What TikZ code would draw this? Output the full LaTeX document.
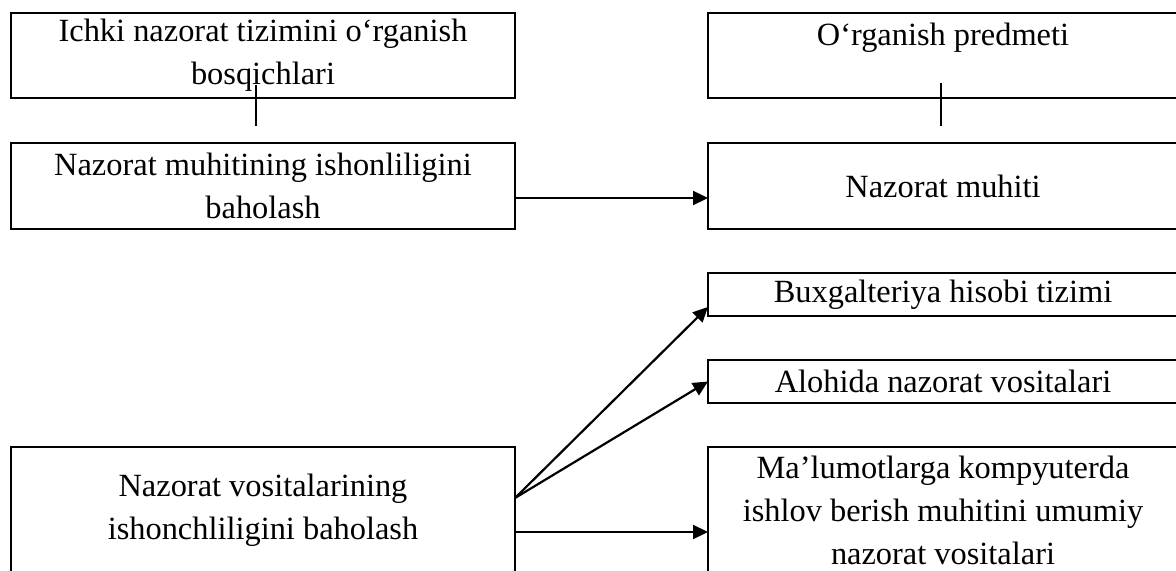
\documentclass[tikz,border=0pt]{standalone}
\usepackage{fontspec}
\setmainfont{Liberation Serif}
\usetikzlibrary{positioning,arrows.meta}

\begin{document}
\begin{tikzpicture}[-{Triangle[length=7.5pt,width=7pt]},line width=1.1pt,align=center,
    blok/.style={draw=black,inner sep=0pt,outer sep=0pt,font=\fontsize{16.2pt}{21.5pt}\selectfont},
    leftbox/.style={blok,minimum width=252pt},
    rightbox/.style={blok,minimum width=235pt}]
      \useasboundingbox (0,0) rectangle (588pt,-285.5pt);
      % left column
      \node[leftbox,minimum height=42.5pt,anchor=north west] (stages) at (5.5pt,-6.5pt)
        {Ichki nazorat tizimini o‘rganish\\bosqichlari};
      \node[leftbox,minimum height=43pt,below=22.5pt of stages] (envcheck)
        {Nazorat muhitining ishonliligini\\baholash};
      \node[leftbox,minimum height=63.5pt,below=109pt of envcheck] (toolcheck)
        {Nazorat vositalarining\\ishonchliligini baholash};
      % right column
      \node[rightbox,minimum height=42.5pt,right=96.5pt of stages] (subject)
        {O‘rganish predmeti\\ \mbox{}};
      \node[rightbox,minimum height=43pt,below=22.5pt of subject] (envmain) {Nazorat muhiti};
      \node[rightbox,minimum height=21.5pt,below=22pt of envmain] (accounting) {Buxgalteriya hisobi tizimi};
      \node[rightbox,minimum height=21.5pt,below=22pt of accounting] (separate) {Alohida nazorat vositalari};
      \node[rightbox,minimum height=63.5pt,below=22pt of separate] (computer)
        {Ma’lumotlarga kompyuterda\\ishlov berish muhitini umumiy\\nazorat vositalari};

      \draw[-,line width=0.6pt] ([xshift=-3.5pt,yshift=6.5pt]stages.south) -- ([xshift=-3.5pt,yshift=-14pt]stages.south);
      \draw[-,line width=0.6pt] ([xshift=-1pt,yshift=7.5pt]subject.south) -- ([xshift=-1pt,yshift=-14pt]subject.south);

      \draw ([yshift=-6pt]envcheck.east) -- ([yshift=-6pt]envcheck.east -| envmain.west);
      \draw ([yshift=6.25pt]toolcheck.east) -- ([yshift=-6.25pt]accounting.west);
      \draw ([yshift=6.25pt]toolcheck.east) -- (separate.west);
      \draw ([yshift=-10.75pt]toolcheck.east) -- ([yshift=-10.75pt]toolcheck.east -| computer.west);
\end{tikzpicture}
\end{document}
